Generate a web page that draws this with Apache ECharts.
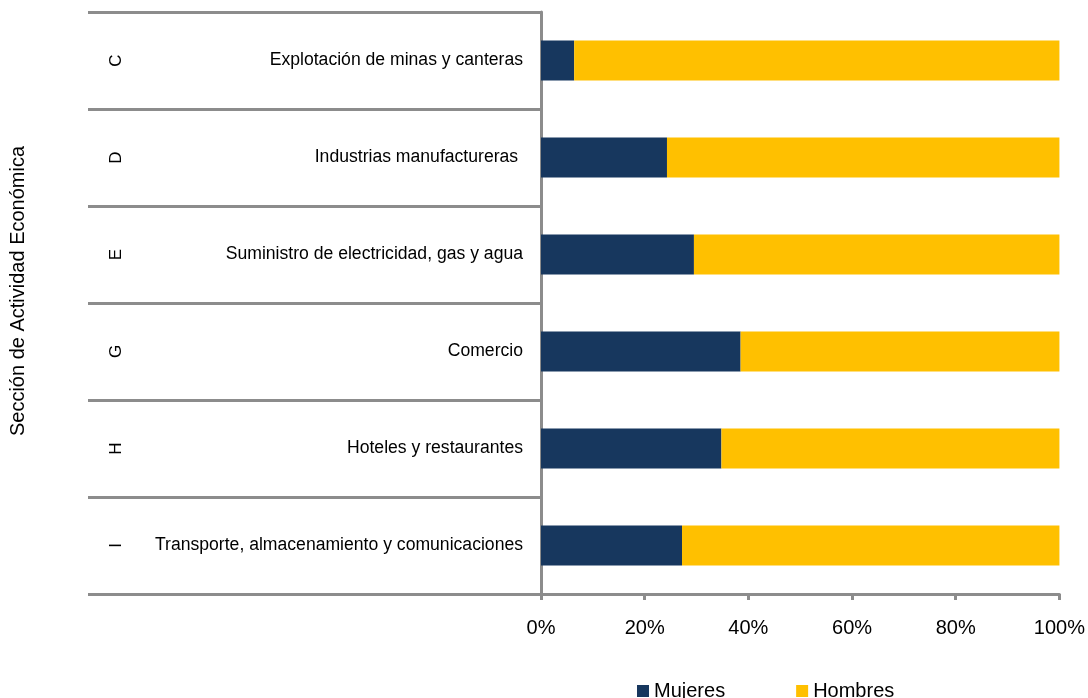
<!DOCTYPE html>
<html><head><meta charset="utf-8">
<script src="https://cdn.jsdelivr.net/npm/echarts@6/dist/echarts.min.js"></script>
<style>html,body{margin:0;padding:0;background:#fff}#c{width:1088px;height:698px}</style>
</head><body><div id="c"></div>
<script>
const sections = ['C','D','E','G','H','I'];
const categories = ['Explotación de minas y canteras','Industrias manufactureras ','Suministro de electricidad, gas y agua','Comercio','Hoteles y restaurantes','Transporte, almacenamiento y comunicaciones'];
const mujeres = [6.4, 24.3, 29.5, 38.5, 34.8, 27.2];
const hombres = [93.6, 75.7, 70.5, 61.5, 65.2, 72.8];
const xTicks = [0,20,40,60,80,100];
const FONT = 'Liberation Sans';
const lineCol = '#8c8c8c';
const chart = echarts.init(document.getElementById('c'));
chart.setOption({
  animation:false,
  textStyle:{fontFamily:FONT},
  grid:{left:541,right:28,top:12,bottom:104},
  legend:{data:['Mujeres','Hombres'],left:637,top:681,padding:0,itemWidth:12,itemHeight:12,itemGap:71,icon:'rect',
    textStyle:{fontSize:20,color:'#000',fontFamily:FONT}},
  xAxis:{type:'value',min:xTicks[0],max:xTicks[xTicks.length-1],interval:20,
    axisLine:{show:true,lineStyle:{color:lineCol,width:3}},
    axisTick:{show:true,length:6,lineStyle:{color:lineCol,width:3}},
    splitLine:{show:false},
    axisLabel:{formatter:'{value}%',fontSize:20,color:'#000',margin:24,fontFamily:FONT}},
  yAxis:[{type:'category',data:categories,inverse:true,position:'left',
    axisLine:{show:true,lineStyle:{color:lineCol,width:3}},
    axisTick:{show:true,length:453,lineStyle:{color:lineCol,width:3}},
    axisLabel:{fontSize:17.6,color:'#000',margin:18,fontFamily:FONT}},
   {type:'category',data:sections,inverse:true,position:'left',
    axisLine:{show:false},axisTick:{show:false},
    axisLabel:{rotate:90,fontSize:17,color:'#000',margin:416,fontFamily:FONT},
    name:'Sección de Actividad Económica',nameLocation:'middle',nameGap:513,nameRotate:90,
    nameTextStyle:{fontSize:20,color:'#000',fontFamily:FONT,padding:[0,0,0,24]}}],
  series:[
    {name:'Mujeres',type:'bar',stack:'t',data:mujeres,barWidth:'41%',itemStyle:{color:'#17375E'}},
    {name:'Hombres',type:'bar',stack:'t',data:hombres,barWidth:'41%',itemStyle:{color:'#FFC000'}}
  ]
});
</script></body></html>
